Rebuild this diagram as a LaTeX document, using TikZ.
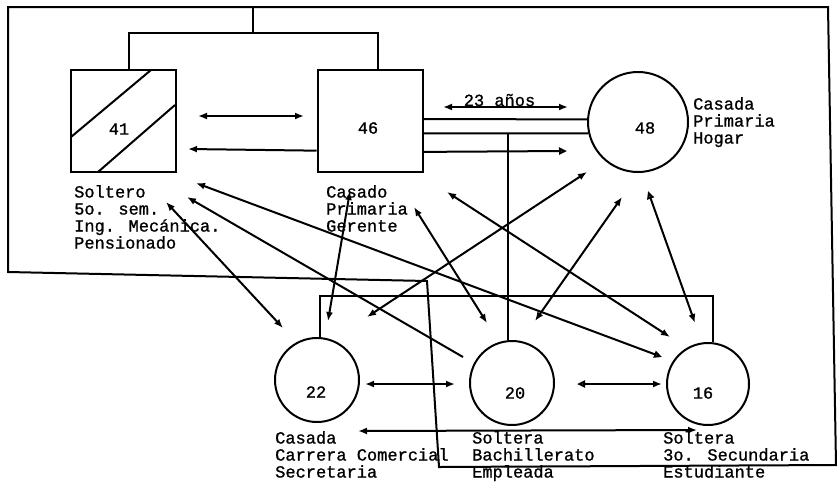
\documentclass[tikz,border=0pt]{standalone}
\usepackage{fontspec}
\usepackage{tikz}
\usetikzlibrary{arrows.meta}
\newfontfamily\maquina[FakeBold=1]{Liberation Mono}

\begin{document}
\begin{tikzpicture}[x=1pt, y=-1pt,
        >={Latex[length=9pt,width=7pt]},
        hueca/.tip={Triangle[open,length=8pt,width=7pt]},
        linea/.style={line width=2pt},
        flecha/.style={line width=2pt},
        varon/.style={draw, line width=2pt, minimum width=105pt, minimum height=102pt},
        mujer/.style={draw, circle, line width=2pt, minimum size=#1},
        mujer/.default=84pt,
        numero/.style={font=\maquina\fontsize{17}{17}\selectfont, inner sep=0pt},
        texto/.style={font=\maquina\fontsize{17}{17}\selectfont, inner sep=0pt,
            align=left, anchor=north west}]

        \useasboundingbox (0,0) rectangle (837,488);

        %% ── Límite del hogar ─────────────────────────────────────────────
        \draw[linea] (8,7) -- (828,7) -- (836,465) -- (439,467)
            -- (427,281) -- (8,272) -- cycle;

        %% ── Padres ───────────────────────────────────────────────────────
        \node[varon, label={[numero, xshift=-4.5pt, yshift=-8pt]center:41}]
            (p41) at (123.5,121) {};
        \draw[linea] (71,137) -- (151,70) (98,172) -- (175,105);
        \node[varon, label={[numero, xshift=-2pt, yshift=-7pt]center:46}]
            (p46) at (370,121) {};
        \node[mujer=100pt, label={[numero, xshift=7pt, yshift=-6pt]center:48}]
            (p48) at (638,122) {};

        \node[texto] (t41) at (74,185)
            {Soltero\\5o. sem.\\Ing. Mecánica.\\Pensionado};
        \node[texto] (t46) at (326,185) {Casado\\Primaria\\Gerente};
        \node[texto] (t48) at (693,97) {Casada\\Primaria\\Hogar};

        \coordinate (abuelos) at (253,7);
        \coordinate (union41) at (253,33);
        \draw[linea] (abuelos) -- (union41);
        \draw[linea] (p41.84) |- (union41) -| (p46.81);
        \draw[linea] (p46.2) -- (p48.177);
        \draw[linea] (p46.347) -- (p48.193);

        %% ── Hijas ────────────────────────────────────────────────────────
        \node[mujer, label={[numero, xshift=-1pt, yshift=-12pt]center:22}]
            (p22) at (317,380) {};
        \node[mujer, label={[numero, xshift=3pt, yshift=-10pt]center:20}]
            (p20) at (512,383) {};
        \node[mujer=82pt, label={[numero, xshift=-5pt, yshift=-9pt]center:16}]
            (p16) at (708,384) {};

        \node[texto] (t22) at (275,431) {Casada\\Carrera Comercial\\Secretaria};
        \node[texto] (t20) at (472,431) {Soltera\\Bachillerato\\Empleada};
        \node[texto] (t16) at (663,431) {Soltera\\3o. Secundaria\\Estudiante};

        \draw[linea] (p20.96) -- (p20.96 |- p46.347);
        \draw[linea] (p22.86) -- ++(0,-41) -| (p16.83);

        %% ── Relaciones ───────────────────────────────────────────────────
        \coordinate (e41) at (198,116);  \coordinate (e46) at (304,116);
        \coordinate (r41) at (188,149);  \coordinate (r48) at (567,151);
        \coordinate (aI) at (443,107);   \coordinate (aF) at (568,107);
        \coordinate (x41a) at (166,202); \coordinate (x22a) at (283,328);
        \coordinate (x20a) at (463,357); \coordinate (x41b) at (187,197);
        \coordinate (x41c) at (196,183); \coordinate (x16a) at (662,357);
        \coordinate (x46a) at (350,191); \coordinate (x22b) at (328,321);
        \coordinate (x46b) at (414,207); \coordinate (x20b) at (487,323);
        \coordinate (x46c) at (447,192); \coordinate (x16b) at (670,337);
        \coordinate (x48a) at (587,172); \coordinate (x22c) at (367,317);
        \coordinate (x48b) at (622,197); \coordinate (x20c) at (535,321);
        \coordinate (x48c) at (648,191); \coordinate (x16c) at (695,323);
        \coordinate (h22a) at (365,384); \coordinate (h20a) at (455,384);
        \coordinate (h20b) at (577,384); \coordinate (h16a) at (662,384);
        \coordinate (h22b) at (358,431); \coordinate (h16b) at (697,430);

        \draw[flecha, <->] (e41) -- (e46);
        \draw[flecha, ->] (p46.209) -- (r41);
        \draw[flecha, -hueca] (p46.330) -- (r48);
        \draw[flecha, <->] (aI) -- (aF)
            node[midway, numero, anchor=base, xshift=-6pt, yshift=1pt] (anos) {23 años};

        \draw[flecha, <->] (x41a) -- (x22a);
        \draw[flecha, ->] (x20a) -- (x41b);
        \draw[flecha, <-hueca] (x41c) -- (x16a);
        \draw[flecha, <->] (x46a) -- (x22b);
        \draw[flecha, <->] (x46b) -- (x20b);
        \draw[flecha, <->] (x46c) -- (x16b);
        \draw[flecha, <->] (x48a) -- (x22c);
        \draw[flecha, <->] (x48b) -- (x20c);
        \draw[flecha, hueca->] (x48c) -- (x16c);

        \draw[flecha, <->] (h22a) -- (h20a);
        \draw[flecha, hueca->] (h20b) -- (h16a);
        \draw[flecha, <->] (h22b) -- (h16b);

    \end{tikzpicture}
\end{document}
